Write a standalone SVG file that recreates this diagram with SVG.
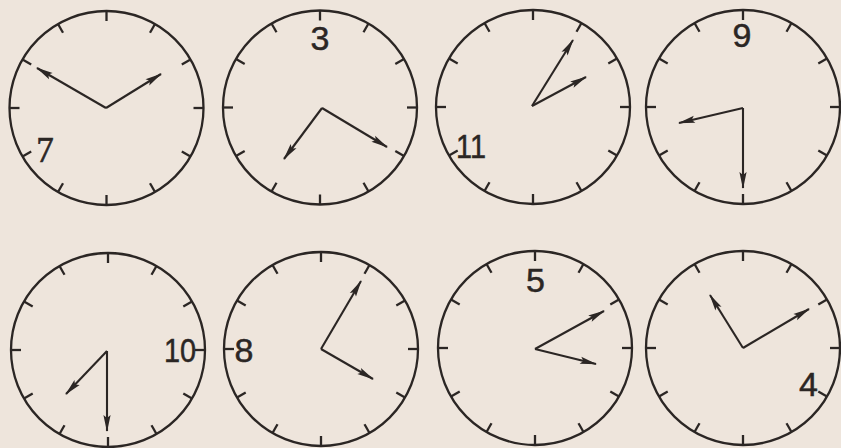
<svg xmlns="http://www.w3.org/2000/svg" xmlns:xlink="http://www.w3.org/1999/xlink" width="841" height="448" viewBox="0 0 841 448">
<style>
.face{fill:none;stroke:#2b2624;stroke-width:2.3}
.tk{stroke:#2b2624;stroke-width:2.3}
.hand{stroke:#2b2624;stroke-width:2.1;fill:none;marker-end:url(#ah)}
.num{font-family:"Liberation Sans",Arial,sans-serif;font-size:34px;fill:#2b2624;stroke:#2b2624;stroke-width:0.5;text-anchor:middle}
.ser{font-family:"Liberation Serif","Times New Roman",serif;font-size:35px;fill:#2b2624;stroke:#2b2624;stroke-width:0.6;text-anchor:middle}
</style>
<defs>
<marker id="ah" viewBox="-17 -5 19 10" markerWidth="19" markerHeight="10" refX="0" refY="0" markerUnits="userSpaceOnUse" orient="auto">
<path d="M1,0 L-16,-3.6 L-13,0 L-16,3.6 Z" fill="#2b2624"/>
</marker>
<g id="dial">
<circle class="face" cx="0" cy="0" r="97"/>
<g class="tk">
<line x1="0" y1="-97" x2="0" y2="-87"/>
<line x1="48.5" y1="-84" x2="43.5" y2="-75.3"/>
<line x1="84" y1="-48.5" x2="75.3" y2="-43.5"/>
<line x1="97" y1="0" x2="87" y2="0"/>
<line x1="84" y1="48.5" x2="75.3" y2="43.5"/>
<line x1="48.5" y1="84" x2="43.5" y2="75.3"/>
<line x1="0" y1="97" x2="0" y2="87"/>
<line x1="-48.5" y1="84" x2="-43.5" y2="75.3"/>
<line x1="-84" y1="48.5" x2="-75.3" y2="43.5"/>
<line x1="-97" y1="0" x2="-87" y2="0"/>
<line x1="-84" y1="-48.5" x2="-75.3" y2="-43.5"/>
<line x1="-48.5" y1="-84" x2="-43.5" y2="-75.3"/>
</g>
</g>
</defs>
<rect width="841" height="448" fill="#eee5dc"/>

<g id="clock1">
<use xlink:href="#dial" transform="translate(106.5,108)"/>
<text class="ser" x="45" y="162">7</text>
</g>
<g id="clock2">
<use xlink:href="#dial" transform="translate(320,107.5)"/>
<text class="num" x="320" y="50">3</text>
</g>
<g id="clock3">
<use xlink:href="#dial" transform="translate(533,107)"/>
<text class="num" x="471" y="158" transform="translate(471,0) scale(0.85,1) translate(-471,0)">11</text>
</g>
<g id="clock4">
<use xlink:href="#dial" transform="translate(743,107)"/>
<text class="num" x="742" y="47">9</text>
</g>
<g id="clock5">
<use xlink:href="#dial" transform="translate(108,350)"/>
<text class="num" x="180" y="362" transform="translate(180,0) scale(0.85,1) translate(-180,0)">10</text>
</g>
<g id="clock6">
<use xlink:href="#dial" transform="translate(321,349)"/>
<text class="num" x="244" y="362">8</text>
</g>
<g id="clock7">
<use xlink:href="#dial" transform="translate(535,348)"/>
<text class="num" x="535.5" y="292">5</text>
</g>
<g id="clock8">
<use xlink:href="#dial" transform="translate(743,348)"/>
<text class="num" x="808.5" y="396">4</text>
</g>

<g id="hands">
<line class="hand" x1="106" y1="108" x2="37" y2="68"/>
<line class="hand" x1="106" y1="108" x2="161" y2="74"/>
<line class="hand" x1="322" y1="108" x2="284" y2="159"/>
<line class="hand" x1="322" y1="108" x2="387" y2="147"/>
<line class="hand" x1="532" y1="106" x2="573" y2="40"/>
<line class="hand" x1="532" y1="106" x2="586" y2="77"/>
<line class="hand" x1="743" y1="108" x2="679" y2="123"/>
<line class="hand" x1="743" y1="108" x2="743" y2="188"/>
<line class="hand" x1="107" y1="351" x2="66" y2="394"/>
<line class="hand" x1="107" y1="351" x2="107" y2="431"/>
<line class="hand" x1="321" y1="349" x2="361" y2="281"/>
<line class="hand" x1="321" y1="349" x2="373" y2="379"/>
<line class="hand" x1="535" y1="349" x2="604" y2="311"/>
<line class="hand" x1="535" y1="349" x2="596" y2="364"/>
<line class="hand" x1="743" y1="348" x2="710" y2="295"/>
<line class="hand" x1="743" y1="348" x2="809" y2="309"/>
</g>
</svg>
